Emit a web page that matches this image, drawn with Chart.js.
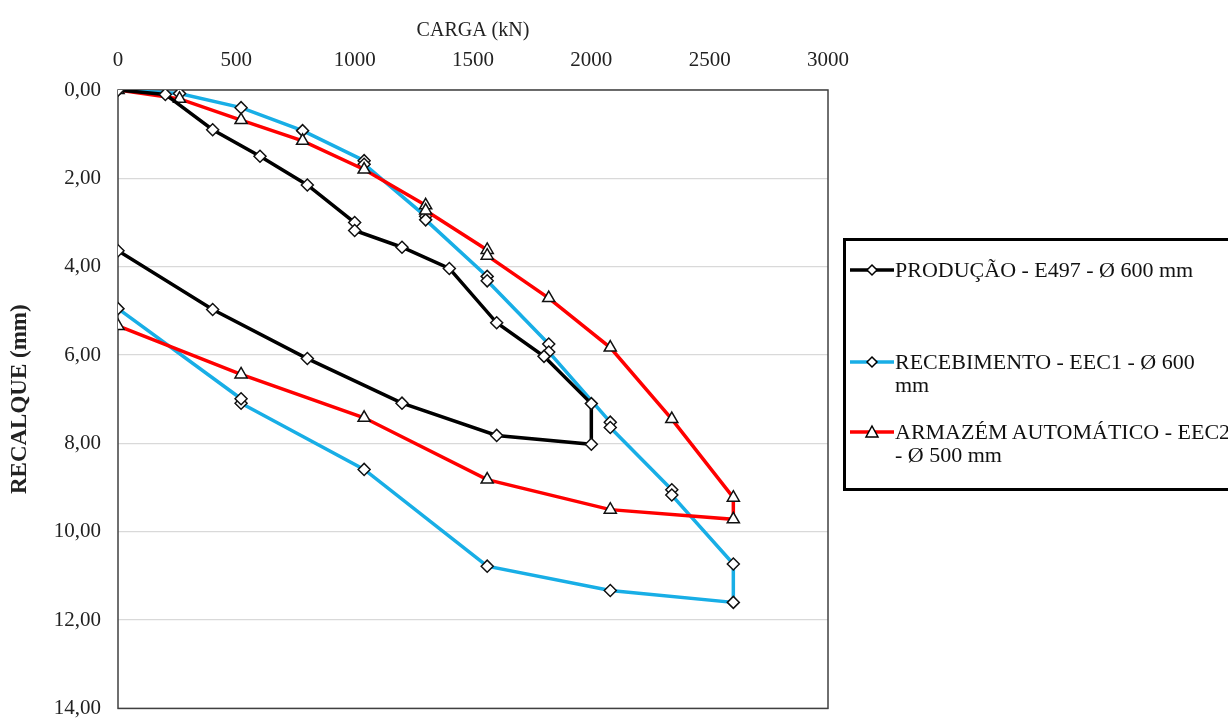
<!DOCTYPE html>
<html>
<head>
<meta charset="utf-8">
<script src="https://cdn.jsdelivr.net/npm/chart.js@4.4.1/dist/chart.umd.min.js"></script>
<style>
    html, body { margin: 0; padding: 0; background: #fff; overflow: hidden; }
    .wrap { position: relative; width: 1228px; height: 720px; overflow: hidden; }
    .wrap canvas { position: absolute; left: 0; top: 0; }
    .legend-box {
        position: absolute; left: 843px; top: 238px; width: 420px; height: 253px;
        border: 3px solid #000; box-sizing: border-box;
    }
    .legend-item { position: absolute; left: 850px; font: 22px "Liberation Serif", "Times New Roman", serif; line-height: 23px; color: #111; }
    .legend-item svg { position: absolute; left: 0; top: 0; }
    .legend-item span { position: absolute; left: 45px; top: 0; white-space: nowrap; }
</style>
</head>
<body>
<div class="wrap">
    <canvas id="recalqueChart" width="1228" height="738"></canvas>
    <div class="legend-box"></div>
    <div class="legend-item" style="top:258px">
        <svg width="46" height="24"><line x1="0" y1="12" x2="44" y2="12" stroke="#000" stroke-width="3.5"/><path d="M22 7 L27 12 L22 17 L17 12 Z" fill="#fff" stroke="#000" stroke-width="1.5"/></svg>
        <span>PRODUÇÃO - E497 - Ø 600 mm</span>
    </div>
    <div class="legend-item" style="top:350px">
        <svg width="46" height="24"><line x1="0" y1="12" x2="44" y2="12" stroke="#18AEE6" stroke-width="3.5"/><path d="M22 7 L27 12 L22 17 L17 12 Z" fill="#fff" stroke="#000" stroke-width="1.5"/></svg>
        <span>RECEBIMENTO - EEC1 - Ø 600<br>mm</span>
    </div>
    <div class="legend-item" style="top:420px">
        <svg width="46" height="24"><line x1="0" y1="12" x2="44" y2="12" stroke="#FF0000" stroke-width="3.5"/><path d="M22 6 L28 17 L16 17 Z" fill="#fff" stroke="#000" stroke-width="1.5"/></svg>
        <span>ARMAZÉM AUTOMÁTICO - EEC2<br>- Ø 500 mm</span>
    </div>
</div>
<script>
// carga (kN) x recalque (mm), carregamento + descarregamento
const prodCarga    = [0, 200, 400, 600, 800, 1000, 1000, 1200, 1400, 1600, 1800, 2000, 2000, 1600, 1200, 800, 400, 0];
const prodRecalque = [0, 0.10, 0.90, 1.50, 2.15, 3.00, 3.18, 3.56, 4.04, 5.27, 6.03, 7.10, 8.02, 7.82, 7.09, 6.08, 4.97, 3.64];

const recCarga    = [0, 260, 520, 780, 1040, 1040, 1300, 1300, 1560, 1560, 1820, 1820, 2080, 2080, 2340, 2340, 2600, 2600, 2080, 1560, 1040, 520, 520, 0];
const recRecalque = [0, 0.08, 0.40, 0.92, 1.60, 1.68, 2.86, 2.94, 4.22, 4.32, 5.75, 5.93, 7.52, 7.64, 9.05, 9.17, 10.73, 11.60, 11.33, 10.78, 8.59, 7.09, 6.99, 4.95];

const armCarga    = [0, 260, 520, 780, 1040, 1300, 1300, 1560, 1560, 1820, 2080, 2340, 2600, 2600, 2080, 1560, 1040, 520, 0];
const armRecalque = [0, 0.20, 0.68, 1.15, 1.80, 2.61, 2.73, 3.62, 3.75, 4.71, 5.83, 7.45, 9.23, 9.72, 9.50, 8.82, 7.42, 6.44, 5.34];

const cargaTicks = [0, 500, 1000, 1500, 2000, 2500, 3000];
const recalqueTicks = [0, 2, 4, 6, 8, 10, 12, 14];

const fontFamily = '"Liberation Serif", "Times New Roman", serif';

function toPoints(xs, ys) {
    return xs.map((x, i) => ({x: x, y: ys[i]}));
}

const plotFrame = {
    id: 'plotFrame',
    beforeDatasetsDraw(chart) {
        const a = chart.chartArea, ctx = chart.ctx;
        ctx.save();
        ctx.strokeStyle = '#404040';
        ctx.lineWidth = 1.5;
        ctx.strokeRect(a.left, a.top, a.right - a.left, a.bottom - a.top);
        ctx.restore();
    }
};

const baseSet = {
    showLine: true,
    tension: 0,
    borderWidth: 3.5,
    pointBackgroundColor: '#fff',
    pointBorderColor: '#111',
    pointBorderWidth: 1.5,
    pointHoverRadius: 6
};

new Chart(document.getElementById('recalqueChart'), {
    type: 'scatter',
    data: {
        datasets: [
            Object.assign({}, baseSet, {
                label: 'PRODUÇÃO - E497 - Ø 600 mm',
                data: toPoints(prodCarga, prodRecalque),
                borderColor: '#000',
                pointStyle: 'rectRot',
                pointRadius: 6,
                order: 0
            }),
            Object.assign({}, baseSet, {
                label: 'RECEBIMENTO - EEC1 - Ø 600 mm',
                data: toPoints(recCarga, recRecalque),
                borderColor: '#18AEE6',
                pointStyle: 'rectRot',
                pointRadius: 6,
                order: 2
            }),
            Object.assign({}, baseSet, {
                label: 'ARMAZÉM AUTOMÁTICO - EEC2 - Ø 500 mm',
                data: toPoints(armCarga, armRecalque),
                borderColor: '#FF0000',
                pointStyle: 'triangle',
                pointRadius: 7,
                order: 1
            })
        ]
    },
    options: {
        responsive: false,
        animation: false,
        layout: { padding: { left: 0, top: 0, right: 400, bottom: 0 } },
        plugins: { legend: { display: false }, tooltip: { enabled: false } },
        scales: {
            x: {
                type: 'linear',
                position: 'top',
                min: 0,
                max: 3000,
                afterBuildTicks: s => { s.ticks = cargaTicks.map(v => ({value: v})); },
                afterFit: s => { s.height = 90; },
                grid: { display: false, drawTicks: false },
                border: { display: false },
                ticks: { color: '#222', font: { family: fontFamily, size: 21 }, padding: 17, maxRotation: 0, callback: v => String(v) },
                title: { display: true, text: 'CARGA (kN)', color: '#222', font: { family: fontFamily, size: 20 }, padding: { top: 19, bottom: 0 } }
            },
            y: {
                type: 'linear',
                reverse: true,
                min: 0,
                max: 14,
                afterBuildTicks: s => { s.ticks = recalqueTicks.map(v => ({value: v})); },
                afterFit: s => { s.width = 118; },
                grid: { color: '#d9d9d9', lineWidth: 1.2, drawTicks: false },
                border: { display: false },
                ticks: {
                    color: '#222',
                    font: { family: fontFamily, size: 21 },
                    padding: 17,
                    callback: v => v.toFixed(2).replace('.', ',')
                },
                title: { display: true, text: 'RECALQUE (mm)', color: '#222', font: { family: fontFamily, size: 23, weight: 'bold' }, padding: { top: 6, bottom: 0 } }
            }
        }
    },
    plugins: [plotFrame]
});
</script>
</body>
</html>
